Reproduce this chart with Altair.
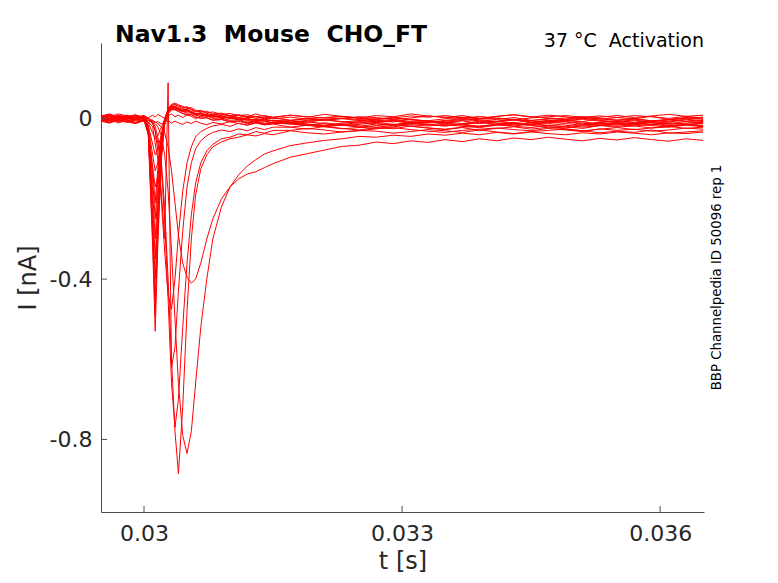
import altair as alt
import pandas as pd

##### Data (time in s, current in nA)

time_s = [
    0.0295, 0.0296, 0.0297, 0.0298, 0.0299, 0.0300,
    0.03005, 0.0301, 0.03013, 0.03016, 0.0302, 0.03024, 0.03028, 0.03032, 0.03036,
    0.0304, 0.03045, 0.0305, 0.03055, 0.0306, 0.03066, 0.03073, 0.0308, 0.0309,
    0.0310, 0.0311, 0.0312, 0.0313, 0.0314, 0.0315,
    0.0317, 0.0319, 0.0321, 0.0323, 0.0325, 0.0327, 0.0329, 0.0331, 0.0333, 0.0335,
    0.0337, 0.0339, 0.0341, 0.0343, 0.0345, 0.0347, 0.0349, 0.0351, 0.0353, 0.0355,
    0.0357, 0.0359, 0.0361, 0.0363, 0.0365,
]

sweep_01 = [
    0.008, 0.001, 0.009, 0.004, -0.001, 0.006,
    0.002, 0.009, 0.004, 0.011, 0.006, 0.001, 0.008, 0.012, 0.005,
    0.009, 0.003, 0.010, 0.006, 0.000, 0.007, 0.011, 0.004, 0.008, 0.002, 0.009, 0.005, 0.012, 0.006, 0.003,
    0.009, 0.004, 0.011, 0.006, 0.002, 0.008, 0.005, 0.012, 0.007, 0.003, 0.008, 0.001, 0.006,
    0.010, 0.004, 0.009, 0.005, 0.000, 0.004, 0.008, 0.003, 0.007, 0.011, 0.006, 0.009,
]
sweep_02 = [
    -0.004, -0.010, -0.002, -0.008, -0.012, -0.005,
    -0.009, -0.003, -0.010, -0.007, -0.013, -0.008, -0.004, -0.011, -0.006,
    -0.010, -0.014, -0.008, -0.012, -0.006, -0.011, -0.015, -0.009, -0.013, -0.007, -0.012, -0.016, -0.010, -0.013, -0.008,
    -0.013, -0.008, -0.012, -0.017, -0.014, -0.009, -0.006, -0.011, -0.015, -0.018, -0.013, -0.010, -0.007,
    -0.011, -0.014, -0.008, -0.012, -0.016, -0.009, -0.013, -0.010, -0.015, -0.012, -0.007, -0.010,
]
sweep_03 = [
    0.005, 0.009, 0.001, 0.006, 0.010, 0.003,
    -0.010, -0.035, -0.050, -0.042, -0.022, -0.002, 0.014, 0.022, 0.024,
    0.022, 0.018, 0.020, 0.015, 0.012, 0.014, 0.009, 0.011, 0.006, 0.008, 0.003, 0.006, 0.001, 0.004, 0.000,
    0.004, -0.001, -0.004, 0.001, 0.005, 0.003, -0.002, 0.002, 0.007, 0.004, 0.000, 0.006, 0.001,
    -0.003, 0.002, 0.005, 0.008, 0.004, -0.001, 0.003, 0.000, 0.006, -0.002, 0.001, 0.004,
]
sweep_04 = [
    -0.003, 0.003, -0.006, 0.001, -0.004, 0.002,
    -0.018, -0.063, -0.090, -0.076, -0.040, -0.006, 0.015, 0.025, 0.027,
    0.024, 0.019, 0.021, 0.014, 0.010, 0.012, 0.006, 0.008, 0.002, 0.004, -0.001, 0.001, -0.004, -0.002, -0.005,
    -0.010, -0.006, -0.003, 0.000, -0.004, -0.007, -0.004, -0.009, -0.011, -0.006, -0.002, -0.005, -0.008,
    -0.003, -0.010, -0.007, -0.004, -0.001, -0.006, -0.009, -0.005, -0.011, -0.008, -0.003, -0.007,
]
sweep_05 = [
    0.009, 0.005, 0.012, 0.007, 0.003, 0.008,
    -0.020, -0.090, -0.130, -0.110, -0.058, -0.008, 0.018, 0.032, 0.036,
    0.033, 0.028, 0.030, 0.024, 0.019, 0.021, 0.015, 0.017, 0.011, 0.013, 0.008, 0.010, 0.005, 0.008, 0.004,
    0.009, 0.005, 0.002, 0.006, 0.001, -0.002, 0.002, 0.007, 0.004, 0.008, 0.003, 0.000, 0.006,
    0.010, 0.005, 0.002, -0.001, 0.004, 0.007, 0.003, 0.008, 0.005, 0.001, 0.006, 0.002,
]
sweep_06 = [
    -0.007, -0.002, -0.010, -0.005, -0.011, -0.004,
    -0.034, -0.120, -0.170, -0.145, -0.075, -0.015, 0.012, 0.026, 0.030,
    0.027, 0.022, 0.024, 0.017, 0.012, 0.014, 0.007, 0.009, 0.002, 0.003, -0.003, -0.001, -0.007, -0.005, -0.010,
    -0.012, -0.017, -0.010, -0.015, -0.019, -0.013, -0.016, -0.009, -0.014, -0.018, -0.013, -0.020, -0.015,
    -0.011, -0.017, -0.012, -0.016, -0.021, -0.017, -0.013, -0.018, -0.014, -0.010, -0.015, -0.012,
]
sweep_07 = [
    0.003, -0.003, 0.006, -0.001, 0.004, -0.002,
    -0.017, -0.126, -0.210, -0.126, -0.042, 0.000, 0.025, 0.036, 0.039,
    0.035, 0.031, 0.026, 0.028, 0.021, 0.017, 0.019, 0.012, 0.014, 0.008, 0.010, 0.004, 0.006, 0.001, 0.003,
    -0.004, 0.001, -0.003, -0.008, -0.005, 0.000, 0.003, -0.002, -0.006, -0.009, -0.004, -0.001, 0.002,
    -0.002, -0.005, 0.001, -0.003, -0.007, 0.000, -0.004, -0.001, -0.006, -0.003, 0.002, -0.001,
]
sweep_08 = [
    -0.005, 0.001, -0.008, -0.002, -0.009, -0.004,
    -0.020, -0.150, -0.250, -0.150, -0.050, -0.004, 0.020, 0.030, 0.031,
    0.027, 0.022, 0.024, 0.017, 0.013, 0.015, 0.008, 0.005, 0.007, 0.001, 0.003, -0.003, -0.001, -0.006, -0.004,
    -0.008, -0.013, -0.016, -0.011, -0.007, -0.009, -0.014, -0.010, -0.005, -0.008, -0.012, -0.006, -0.011,
    -0.015, -0.010, -0.007, -0.004, -0.008, -0.013, -0.009, -0.012, -0.006, -0.014, -0.011, -0.008,
]
sweep_09 = [
    0.006, 0.011, 0.003, 0.008, 0.001, 0.007,
    -0.024, -0.180, -0.300, -0.180, -0.060, -0.002, 0.024, 0.034, 0.035,
    0.031, 0.026, 0.028, 0.022, 0.017, 0.019, 0.013, 0.010, 0.012, 0.006, 0.008, 0.003, 0.005, 0.000, 0.003,
    -0.004, 0.000, 0.003, 0.006, 0.002, -0.001, 0.002, -0.003, -0.005, 0.000, 0.004, 0.001, -0.002,
    0.003, -0.004, -0.001, 0.002, 0.005, 0.000, -0.003, 0.001, -0.005, -0.002, 0.003, -0.001,
]
sweep_10 = [
    0.001, -0.005, 0.003, -0.002, 0.004, -0.001,
    -0.028, -0.210, -0.350, -0.210, -0.070, -0.010, 0.016, 0.025, 0.024,
    0.019, 0.014, 0.010, 0.011, 0.005, 0.002, 0.003, -0.003, -0.001, -0.007, -0.005, -0.010, -0.008, -0.013, -0.011,
    -0.013, -0.017, -0.020, -0.016, -0.021, -0.024, -0.020, -0.015, -0.018, -0.014, -0.019, -0.022, -0.016,
    -0.012, -0.017, -0.020, -0.023, -0.018, -0.015, -0.019, -0.014, -0.017, -0.021, -0.016, -0.020,
]
sweep_11 = [
    0.005, -0.001, 0.008, 0.002, 0.009, 0.003,
    -0.032, -0.240, -0.400, -0.240, -0.080, -0.006, 0.022, 0.031, 0.030,
    0.026, 0.021, 0.017, 0.019, 0.012, 0.009, 0.011, 0.004, 0.006, 0.000, 0.002, -0.004, -0.002, -0.006, -0.004,
    -0.004, -0.009, -0.002, -0.007, -0.011, -0.005, -0.008, -0.001, -0.006, -0.010, -0.005, -0.012, -0.007,
    -0.003, -0.009, -0.004, -0.008, -0.013, -0.009, -0.005, -0.010, -0.006, -0.002, -0.007, -0.004,
]
sweep_12 = [
    -0.003, -0.009, -0.001, -0.007, 0.000, -0.005,
    -0.036, -0.270, -0.450, -0.270, -0.090, -0.012, 0.014, 0.023, 0.022,
    0.018, 0.013, 0.009, 0.010, 0.004, 0.001, 0.002, -0.004, -0.002, -0.008, -0.006, -0.012, -0.010, -0.015, -0.013,
    -0.021, -0.016, -0.020, -0.025, -0.022, -0.017, -0.014, -0.019, -0.023, -0.026, -0.021, -0.018, -0.015,
    -0.019, -0.022, -0.016, -0.020, -0.024, -0.017, -0.021, -0.018, -0.023, -0.020, -0.015, -0.018,
]
sweep_13 = [
    0.003, 0.008, -0.001, 0.005, -0.002, 0.002,
    -0.039, -0.294, -0.490, -0.294, -0.098, -0.010, 0.018, 0.028, 0.027,
    0.023, 0.018, 0.014, 0.015, 0.009, 0.006, 0.007, 0.001, 0.002, -0.004, -0.002, -0.008, -0.006, -0.011, -0.009,
    -0.011, -0.016, -0.019, -0.014, -0.010, -0.012, -0.017, -0.013, -0.008, -0.011, -0.015, -0.009, -0.014,
    -0.018, -0.013, -0.010, -0.007, -0.011, -0.016, -0.012, -0.015, -0.009, -0.017, -0.014, -0.011,
]
sweep_14 = [
    0.000, 0.005, -0.005, 0.002, -0.004, 0.001,
    -0.042, -0.318, -0.530, -0.318, -0.106, -0.012, 0.020, 0.030, 0.029,
    0.025, 0.020, 0.022, 0.015, 0.011, 0.013, 0.006, 0.008, 0.002, 0.004, -0.001, 0.001, -0.004, -0.001, -0.005,
    -0.008, -0.004, -0.001, 0.002, -0.002, -0.005, -0.002, -0.007, -0.009, -0.004, 0.000, -0.003, -0.006,
    -0.001, -0.008, -0.005, -0.002, 0.001, -0.004, -0.007, -0.003, -0.009, -0.006, -0.001, -0.005,
]
sweep_15 = [
    0.007, 0.012, 0.004, 0.009, 0.002, 0.008,
    0.002, -0.010, -0.030, -0.080, -0.200, -0.330, -0.440, -0.475, -0.400,
    -0.290, -0.180, -0.110, -0.070, -0.045, -0.032, -0.024, -0.018, -0.014, -0.019, -0.011, -0.016, -0.010, -0.015, -0.012,
    -0.010, -0.014, -0.017, -0.013, -0.018, -0.021, -0.017, -0.012, -0.015, -0.011, -0.016, -0.019, -0.013,
    -0.009, -0.014, -0.017, -0.020, -0.015, -0.012, -0.016, -0.011, -0.014, -0.018, -0.013, -0.017,
]
sweep_16 = [
    -0.006, -0.011, -0.003, -0.009, -0.002, -0.007,
    -0.008, -0.020, -0.060, -0.100, -0.180, -0.300, 0.090, -0.620, -0.570,
    -0.430, -0.280, -0.170, -0.110, -0.075, -0.055, -0.042, -0.034, -0.028, -0.032, -0.025, -0.030, -0.022, -0.027, -0.021,
    -0.021, -0.026, -0.019, -0.024, -0.028, -0.022, -0.025, -0.018, -0.023, -0.027, -0.022, -0.029, -0.024,
    -0.020, -0.026, -0.021, -0.025, -0.030, -0.026, -0.022, -0.027, -0.023, -0.019, -0.024, -0.021,
]
sweep_17 = [
    0.002, -0.004, 0.005, -0.001, 0.006, -0.001,
    -0.003, -0.012, -0.030, -0.060, -0.120, -0.250, -0.450, -0.660, -0.770,
    -0.700, -0.520, -0.360, -0.240, -0.160, -0.110, -0.080, -0.064, -0.050, -0.046, -0.038, -0.040, -0.032, -0.036, -0.029,
    -0.029, -0.024, -0.028, -0.033, -0.030, -0.025, -0.022, -0.027, -0.031, -0.034, -0.029, -0.026, -0.023,
    -0.027, -0.030, -0.024, -0.028, -0.032, -0.025, -0.029, -0.026, -0.031, -0.028, -0.023, -0.026,
]
sweep_18 = [
    0.003, 0.008, 0.000, 0.006, -0.002, 0.004,
    0.000, -0.008, -0.020, -0.045, -0.100, -0.220, -0.400, -0.600, -0.780,
    -0.885, -0.720, -0.480, -0.300, -0.190, -0.125, -0.090, -0.070, -0.058, -0.050, -0.046, -0.040, -0.043, -0.037, -0.040,
    -0.030, -0.035, -0.038, -0.033, -0.029, -0.031, -0.036, -0.032, -0.027, -0.030, -0.034, -0.028, -0.033,
    -0.037, -0.032, -0.029, -0.026, -0.030, -0.035, -0.031, -0.034, -0.028, -0.036, -0.033, -0.030,
]
sweep_19 = [
    -0.001, -0.007, 0.002, -0.004, -0.009, -0.003,
    -0.004, -0.007, -0.012, -0.020, -0.040, -0.090, -0.180, -0.330, -0.500,
    -0.660, -0.790, -0.835, -0.780, -0.660, -0.520, -0.400, -0.300, -0.220, -0.170, -0.140, -0.118, -0.102, -0.088, -0.080,
    -0.067, -0.060, -0.054, -0.050, -0.044, -0.046, -0.041, -0.044, -0.038, -0.041, -0.036, -0.040, -0.034,
    -0.038, -0.033, -0.037, -0.040, -0.035, -0.038, -0.033, -0.036, -0.040, -0.035, -0.037, -0.033,
]
sweep_20 = [
    0.004, -0.002, 0.007, 0.001, 0.008, 0.002,
    0.000, -0.004, -0.008, -0.012, -0.020, -0.035, -0.070, -0.130, -0.210,
    -0.290, -0.360, -0.395, -0.410, -0.400, -0.360, -0.300, -0.250, -0.200, -0.170, -0.150, -0.138, -0.132, -0.122, -0.112,
    -0.096, -0.087, -0.078, -0.069, -0.066, -0.058, -0.062, -0.055, -0.059, -0.052, -0.057, -0.050, -0.055,
    -0.048, -0.052, -0.046, -0.051, -0.055, -0.049, -0.053, -0.047, -0.052, -0.056, -0.050, -0.054,
]

sweeps = [
    sweep_01, sweep_02, sweep_03, sweep_04, sweep_05, sweep_06, sweep_07,
    sweep_08, sweep_09, sweep_10, sweep_11, sweep_12, sweep_13, sweep_14,
    sweep_15, sweep_16, sweep_17, sweep_18, sweep_19, sweep_20,
]

x_ticks = [0.03, 0.033, 0.036]
y_ticks = [0, -0.4, -0.8]

title_text = "Nav1.3\u00a0 Mouse\u00a0 CHO_FT"
condition_text = "37 \u00b0C\u00a0 Activation"
side_text = "BBP Channelpedia ID 50096 rep 1"

##### Build long table

rows = []
for k, values in enumerate(sweeps):
    for t, i in zip(time_s, values):
        rows.append({"sweep": f"s{k + 1:02d}", "t": t, "I": i})
df = pd.DataFrame(rows)

W, H = 603, 469
x_scale = alt.Scale(domain=[0.0295, 0.03651], nice=False, zero=False)
y_scale = alt.Scale(domain=[-0.981, 0.189], nice=False, zero=False)
TEXT = "#262626"

lines = (
    alt.Chart(df)
    .mark_line(color="#ff0000", strokeWidth=1, clip=True)
    .encode(
        x=alt.X(
            "t:Q",
            scale=x_scale,
            axis=alt.Axis(
                values=x_ticks,
                format=".3~f",
                title="t [s]",
                titleX=W / 2,
                titleY=49,
                titleBaseline="middle",
            ),
        ),
        y=alt.Y(
            "I:Q",
            scale=y_scale,
            axis=alt.Axis(
                values=y_ticks,
                labelExpr="datum.value == 0 ? '0' : '-' + format(abs(datum.value), '.1f')",
                title="I [nA]",
                titleX=-73,
                titleY=H / 2,
                titleAngle=270,
                titleAlign="center",
                titleBaseline="middle",
            ),
        ),
        detail="sweep:N",
        order="t:Q",
    )
)

# inward ticks, MATLAB style
x_tick_marks = (
    alt.Chart(pd.DataFrame({"t": x_ticks}))
    .mark_rule(color="#4d4d4d", strokeWidth=1)
    .encode(x=alt.X("t:Q", scale=x_scale), y=alt.value(H), y2=alt.value(H - 6))
)
y_tick_marks = (
    alt.Chart(pd.DataFrame({"I": y_ticks}))
    .mark_rule(color="#4d4d4d", strokeWidth=1)
    .encode(y=alt.Y("I:Q", scale=y_scale), x=alt.value(0), x2=alt.value(6))
)

title = (
    alt.Chart(pd.DataFrame({"label": [title_text]}))
    .mark_text(align="left", baseline="alphabetic", font="DejaVu Sans",
               fontSize=23.5, fontWeight="bold", color="#000000")
    .encode(text="label:N", x=alt.value(14), y=alt.value(-1.3))
)
condition = (
    alt.Chart(pd.DataFrame({"label": [condition_text]}))
    .mark_text(align="right", baseline="alphabetic", font="DejaVu Sans",
               fontSize=19, color="#000000")
    .encode(text="label:N", x=alt.value(W), y=alt.value(3.7))
)
side = (
    alt.Chart(pd.DataFrame({"label": [side_text]}))
    .mark_text(align="center", baseline="middle", font="DejaVu Sans",
               fontSize=13.3, angle=270, color="#000000")
    .encode(text="label:N", x=alt.value(616), y=alt.value(H / 2))
)

chart = (
    alt.layer(lines, x_tick_marks, y_tick_marks, title, condition, side)
    .properties(
        width=W,
        height=H,
        autosize=alt.AutoSizeParams(type="none"),
        padding={"left": 93, "top": 35, "right": 62, "bottom": 63},
    )
    .configure_view(stroke=None)
    .configure_axis(
        domainColor="#4d4d4d",
        domainWidth=1,
        ticks=False,
        tickSize=0,
        grid=False,
        labelFont="DejaVu Sans",
        labelFontSize=22,
        labelColor=TEXT,
        titleFont="DejaVu Sans",
        titleFontSize=24,
        titleFontWeight="normal",
        titleColor=TEXT,
    )
    .configure_axisX(labelPadding=11)
    .configure_axisY(labelPadding=9)
)

chart.save("out.html", embed_options={"renderer": "svg", "actions": False})
